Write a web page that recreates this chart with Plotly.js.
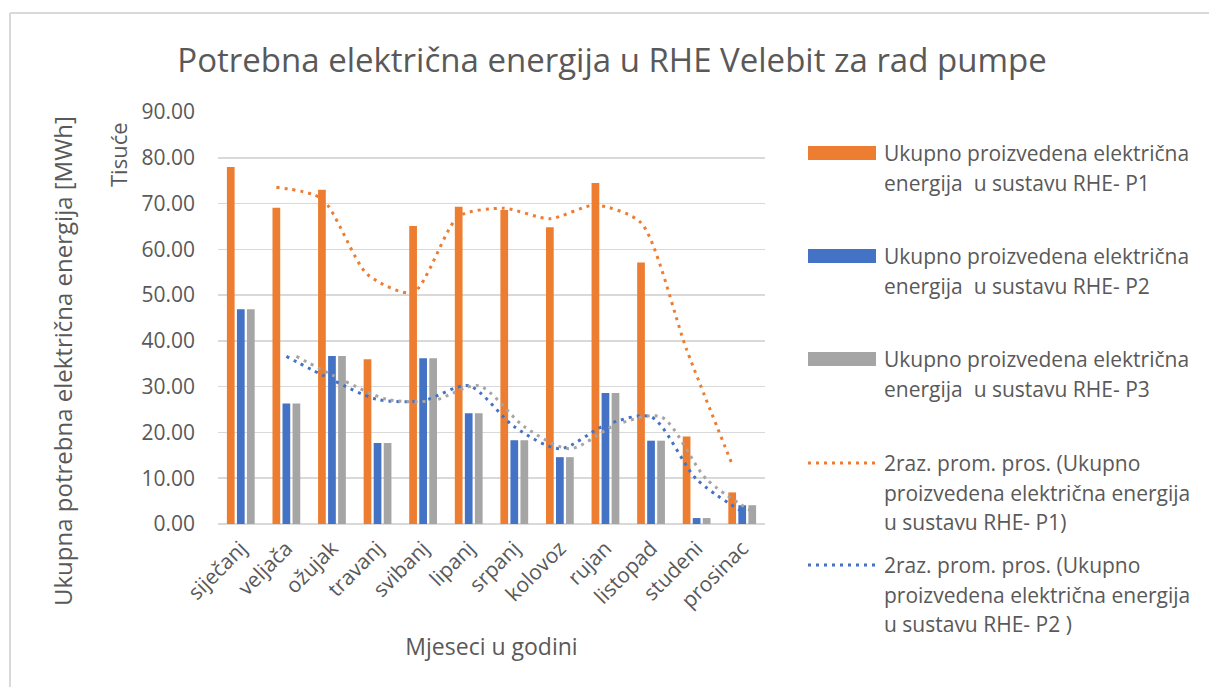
<!DOCTYPE html>
<html>
<head>
<meta charset="utf-8">
<script src="https://cdn.plot.ly/plotly-3.0.1.min.js"></script>
<style>
html,body{margin:0;padding:0;background:#fff;}
#chart{width:1209px;height:687px;}
</style>
</head>
<body>
<div id="chart"></div>
<script>
// ---- data ----
const months = ['siječanj','veljača','ožujak','travanj','svibanj','lipanj','srpanj','kolovoz','rujan','listopad','studeni','prosinac'];
const p1 = [78.0, 69.1, 73.0, 36.0, 65.1, 69.3, 68.6, 64.8, 74.5, 57.1, 19.1, 6.9];
const p2 = [46.9, 26.3, 36.7, 17.7, 36.2, 24.2, 18.3, 14.6, 28.6, 18.2, 1.3, 4.1];
const p3 = [46.9, 26.3, 36.7, 17.7, 36.2, 24.2, 18.3, 14.6, 28.6, 18.2, 1.3, 4.1];
const seriesNames = [
  'Ukupno proizvedena električna energija  u sustavu RHE- P1',
  'Ukupno proizvedena električna energija  u sustavu RHE- P2',
  'Ukupno proizvedena električna energija  u sustavu RHE- P3'
];
const yTicks = [0,10,20,30,40,50,60,70,80,90];

// ---- styling ----
const C_OR = '#ED7D31', C_BL = '#4472C4', C_GR = '#A5A5A5';
const TXT = '#595959', GRID = '#D9D9D9';
const FONT = 'Open Sans, sans-serif';
const W = 1209, H = 687, L = 218, R = 444, T = 112, B = 163;
const PW = W - L - R, PH = H - T - B;
const px2x = p => (p - L) / PW;
const py2y = p => (H - B - p) / PH;

const BARGAP = 0.34, BARGROUPGAP = 0.23;
const slot = (1 - BARGAP) / 3;
const idx = months.map((_, i) => i);

// 2-period moving average (Excel trendline) computed from series
function movAvg(v) { const out = []; for (let i = 1; i < v.length; i++) out.push((v[i-1] + v[i]) / 2); return out; }
function maX(off) { return idx.slice(1).map(i => i + off); }

const DASH = '3px,5px';
const traces = [
  {type:'bar', x: idx, y: p1, name: seriesNames[0], marker:{color:C_OR}, showlegend:false, hoverinfo:'y'},
  {type:'bar', x: idx, y: p2, name: seriesNames[1], marker:{color:C_BL}, showlegend:false, hoverinfo:'y'},
  {type:'bar', x: idx, y: p3, name: seriesNames[2], marker:{color:C_GR}, showlegend:false, hoverinfo:'y'},
  {type:'scatter', mode:'lines', x: maX(-slot), y: movAvg(p1), line:{color:C_OR, width:3, dash:DASH, shape:'spline', smoothing:0.7}, showlegend:false, hoverinfo:'y'},
  {type:'scatter', mode:'lines', x: maX(0), y: movAvg(p2), line:{color:C_BL, width:3, dash:DASH, shape:'spline', smoothing:0.8}, showlegend:false, hoverinfo:'y'},
  {type:'scatter', mode:'lines', x: maX(slot), y: movAvg(p3), line:{color:C_GR, width:3, dash:DASH, shape:'spline', smoothing:0.8}, showlegend:false, hoverinfo:'y'}
];

// ---- custom legend (lines of text) ----
const LEG_SW_X0 = 808, LEG_SW_X1 = 876, LEG_TX = 882, LFS = 21;
const legend = [
  {kind:'bar', color:C_OR, y:153, lines:['Ukupno proizvedena električna','energija  u sustavu RHE- P1']},
  {kind:'bar', color:C_BL, y:256, lines:['Ukupno proizvedena električna','energija  u sustavu RHE- P2']},
  {kind:'bar', color:C_GR, y:359, lines:['Ukupno proizvedena električna','energija  u sustavu RHE- P3']},
  {kind:'line', color:C_OR, y:463, lines:['2raz. prom. pros. (Ukupno','proizvedena električna energija','u sustavu RHE- P1)']},
  {kind:'line', color:C_BL, y:565, lines:['2raz. prom. pros. (Ukupno','proizvedena električna energija','u sustavu RHE- P2 )']}
];
const LINE_H = 29.5;
const shapes = [];
const annotations = [];
legend.forEach(e => {
  if (e.kind === 'bar') {
    shapes.push({type:'rect', xref:'paper', yref:'paper', x0:px2x(LEG_SW_X0), x1:px2x(LEG_SW_X1), y0:py2y(e.y+7), y1:py2y(e.y-7), fillcolor:e.color, line:{width:0}});
  } else {
    shapes.push({type:'line', xref:'paper', yref:'paper', x0:px2x(LEG_SW_X0), x1:px2x(LEG_SW_X1), y0:py2y(e.y), y1:py2y(e.y), line:{color:e.color, width:3, dash:DASH}});
  }
  e.lines.forEach((t, k) => {
    annotations.push({xref:'paper', yref:'paper', x:px2x(LEG_TX), y:py2y(e.y + k*LINE_H), xanchor:'left', yanchor:'middle', text:t, showarrow:false, font:{family:FONT, size:LFS, color:TXT}});
  });
});
// y axis title (placed like Excel, centred lower than the plot area)
annotations.push({xref:'paper', yref:'paper', x:px2x(62), y:py2y(361), text:'Ukupna potrebna električna energija [MWh]', textangle:-90, showarrow:false, xanchor:'center', yanchor:'middle', font:{family:FONT, size:24, color:TXT}});
// display units label
annotations.push({xref:'paper', yref:'paper', x:px2x(118), y:py2y(155), text:'Tisuće', textangle:-90, showarrow:false, xanchor:'center', yanchor:'middle', font:{family:FONT, size:22, color:TXT}});
// chart area border (top + left)
shapes.push({type:'line', xref:'paper', yref:'paper', x0:px2x(10), x1:px2x(W+5), y0:py2y(13), y1:py2y(13), line:{color:GRID, width:2}});
shapes.push({type:'line', xref:'paper', yref:'paper', x0:px2x(10), x1:px2x(10), y0:py2y(13), y1:py2y(H+5), line:{color:GRID, width:2}});

const layout = {
  width: W, height: H,
  margin: {l:L, r:R, t:T, b:B, pad:0},
  paper_bgcolor:'#fff', plot_bgcolor:'#fff',
  barmode:'group', bargap:BARGAP, bargroupgap:BARGROUPGAP,
  showlegend:false,
  title: {text:'Potrebna električna energija u RHE Velebit za rad pumpe', xref:'container', yref:'container', x:612/W, y:1-60/H, xanchor:'center', yanchor:'middle', font:{family:FONT, size:33, color:TXT}},
  xaxis: {
    range:[-0.5, 11.5], tickmode:'array', tickvals: idx, ticktext: months, tickangle:-45,
    showgrid:false, zeroline:false, showline:false, ticks:'', ticklabelstandoff:7,
    tickfont:{family:FONT, size:21, color:TXT},
    title:{text:'Mjeseci u godini', font:{family:FONT, size:23, color:TXT}, standoff:26},
    automargin:false
  },
  yaxis: {
    range:[0, 90], tickmode:'array', tickvals:yTicks, ticktext: yTicks.map(v => v.toFixed(2)),
    showgrid:true, gridcolor:GRID, gridwidth:1.5, zeroline:true, zerolinecolor:GRID, zerolinewidth:1.5,
    showline:false, ticks:'', ticklabelstandoff:22,
    tickfont:{family:FONT, size:21, color:TXT},
    automargin:false
  },
  shapes: shapes,
  annotations: annotations,
  font:{family:FONT, color:TXT}
};

Plotly.newPlot('chart', traces, layout, {displayModeBar:false, staticPlot:true});
</script>
</body>
</html>
